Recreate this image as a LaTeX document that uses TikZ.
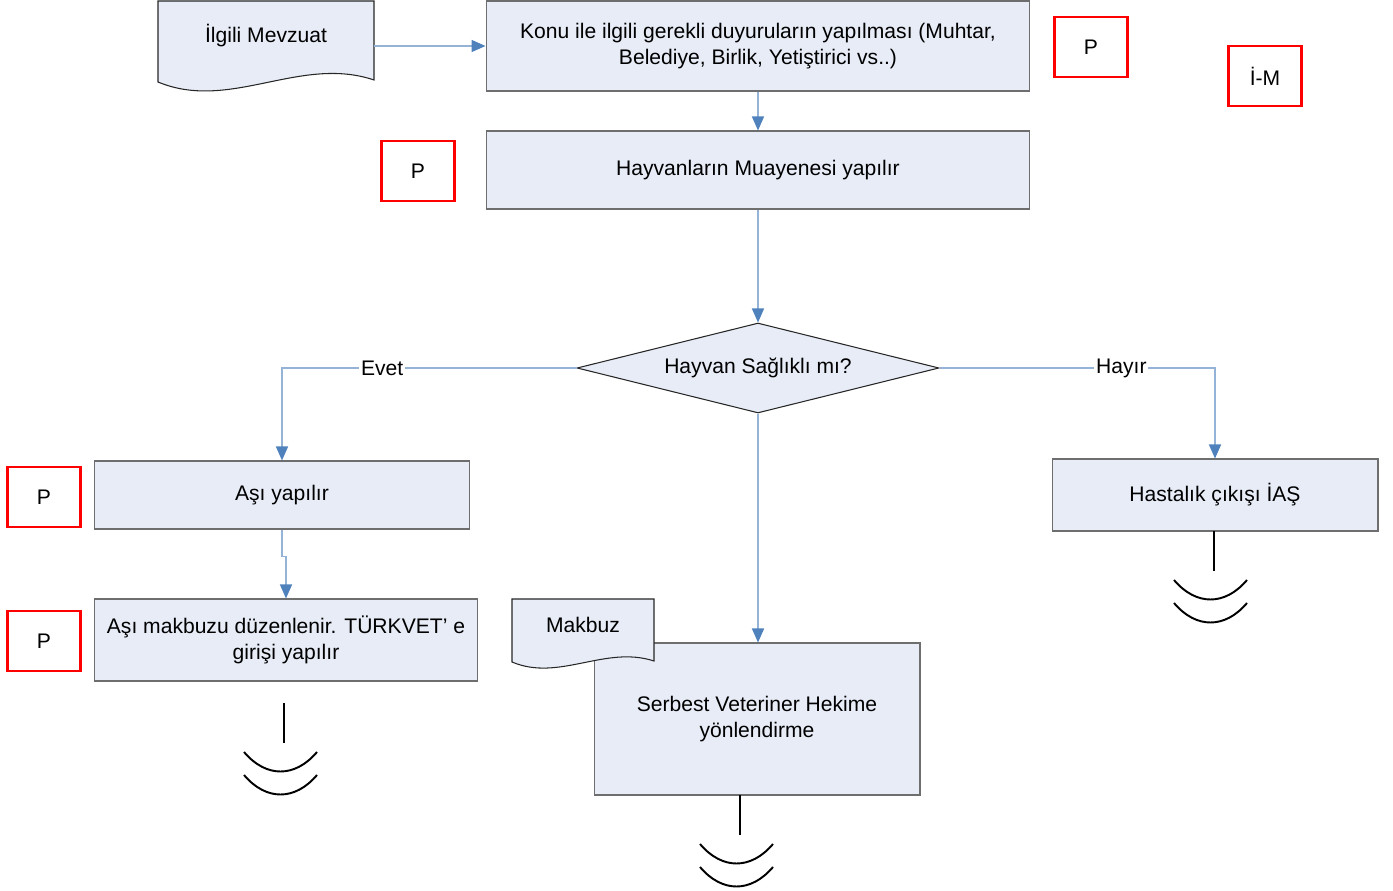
\documentclass[tikz,border=0pt]{standalone}
\usepackage{fontspec}
\setmainfont{Liberation Sans}
\usetikzlibrary{shapes.geometric,arrows.meta}
\definecolor{boxfill}{RGB}{231,236,247}
\definecolor{boxline}{RGB}{110,110,110}
\definecolor{lineblue}{RGB}{149,179,215}
\definecolor{tipblue}{RGB}{79,129,189}

\begin{document}
\begin{tikzpicture}[x=0.02cm,y=-0.02cm,
        font=\fontsize{12}{14.7}\selectfont,
        box/.style={draw=boxline,fill=boxfill,line width=0.6pt,align=center,inner sep=0pt},
        redbox/.style={draw=red,line width=1.4pt,minimum width=1.46cm,minimum height=1.2cm,inner sep=0pt},
        decision/.style={diamond,aspect=4,draw=black!85,fill=boxfill,line width=0.6pt,minimum width=7.24cm,minimum height=1.8cm,inner sep=0pt},
        docu/.style={draw=black!85,fill=boxfill,line width=0.6pt},
        conn/.style={draw=lineblue,line width=0.8pt,-{Triangle[length=0.28cm,width=0.24cm,color=tipblue]}},
        lbl/.style={fill=white,inner sep=1pt},
        stopln/.style={line width=1.1pt}]
            \useasboundingbox (0,0) rectangle (1393,891);
            % documents and process boxes
            \filldraw[docu] (158,1) -- (374,1) -- (374,80) .. controls (300,55) and (230,112) .. (158,82) -- cycle;
            \node[minimum width=4.32cm,minimum height=1.6cm,inner sep=0pt] (mevzuat) at (266,36) {İlgili Mevzuat};
            \node[box,minimum width=10.88cm,minimum height=1.8cm] (konu) at (758,46)
                {Konu ile ilgili gerekli duyuruların yapılması (Muhtar,\\Belediye, Birlik, Yetiştirici vs..)};
            \node[box,minimum width=10.88cm,minimum height=1.56cm] (muayene) at (758,170) {Hayvanların Muayenesi yapılır};
            \node[decision] (saglik) at (758,368) {Hayvan Sağlıklı mı?};
            \node[box,minimum width=7.52cm,minimum height=1.36cm] (asi) at (282,495) {Aşı yapılır};
            \node[box,minimum width=7.68cm,minimum height=1.64cm] (makbuzu) at (286,640)
                {Aşı makbuzu düzenlenir. TÜRKVET’ e\\girişi yapılır};
            \node[box,minimum width=6.52cm,minimum height=1.44cm] (hastalik) at (1215,495) {Hastalık çıkışı İAŞ};
            \node[box,minimum width=6.52cm,minimum height=3.04cm] (serbest) at (757,719)
                {Serbest Veteriner Hekime\\yönlendirme};
            \filldraw[docu] (512,599) -- (654,599) -- (654,661) .. controls (605,645) and (559,682) .. (512,662) -- cycle;
            \node (makbuz) at (583,625) {Makbuz};
            % responsible marks
            \node[redbox] (p1) at (1091,47) {P};
            \node[redbox] (im) at (1265,76) {İ-M};
            \node[redbox] (p2) at (418,171) {P};
            \node[redbox] (p3) at (44,497) {P};
            \node[redbox] (p4) at (44,641) {P};
            % connectors
            \draw[conn] (mevzuat.east |- konu.west) -- (konu.west);
            \draw[conn] (konu) -- (muayene);
            \draw[conn] (muayene) -- (saglik);
            \draw[conn] (saglik.west) -| node[lbl,pos=0.33] {Evet} (asi.north);
            \draw[conn] (saglik.east) -| node[lbl,pos=0.33] {Hayır} (hastalik.north);
            \draw[conn] (saglik.south) -- (saglik.south |- serbest.north);
            \draw[conn] (asi.south) -- ++(0,27) -| (makbuzu.north);
            % ends
            \coordinate (end1) at (284,703);
            \coordinate (end2) at (1214,531);
            \coordinate (end3) at (740,795);
            \foreach \e in {end1,end2,end3} {
                \draw[stopln] (\e) -- ++(0,40);
                \draw[stopln] (\e) ++(-40,49) .. controls +(22,26) and +(-22,26) .. ++(73,0);
                \draw[stopln] (\e) ++(-40,72) .. controls +(22,26) and +(-22,26) .. ++(73,0);
            }
        \end{tikzpicture}
\end{document}
